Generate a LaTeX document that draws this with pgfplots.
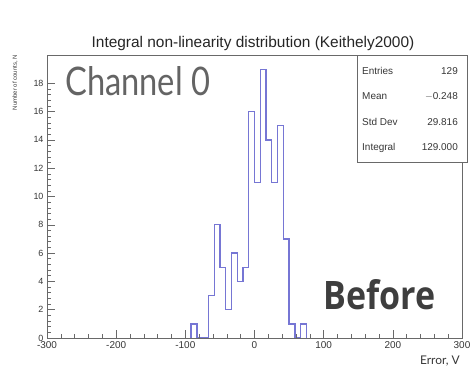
\documentclass[border=0pt]{standalone}
\usepackage{pgfplots}
\pgfplotsset{compat=1.18}
\usepackage{fontspec}
\setmainfont{Liberation Sans}
\newfontfamily\latofont{Lato}
\newfontfamily\boldfont{Open Sans}
\definecolor{histblue}{RGB}{118,118,212}
\definecolor{framegray}{RGB}{105,105,105}
\definecolor{txtgray}{RGB}{55,55,55}
\begin{document}
\begin{tikzpicture}[x=1bp,y=1bp]
\path[use as bounding box] (0,0) rectangle (471,368);
\fill[white] (0,0) rectangle (471,368);
\begin{axis}[
  at={(47bp,30bp)}, anchor=south west,
  scale only axis, width=415bp, height=283bp,
  xmin=-300, xmax=300, ymin=0, ymax=20,
  xtick={-300,-200,...,300}, minor x tick num=4,
  ytick={0,2,...,18}, minor y tick num=4,
  tick pos=left, tick align=inside,
  major tick length=8bp, minor tick length=4bp,
  axis line style={framegray, line width=0.8pt},
  tick style={framegray, line width=0.6pt},
  axis on top,
  /pgf/number format/assume math mode=true,
  xticklabel style={font=\fontsize{10}{10}\selectfont, text=txtgray},
  yticklabel style={font=\fontsize{9}{9}\selectfont, text=txtgray},
  scaled ticks=false,
]
\addplot[const plot, histblue, line width=1.3pt] coordinates {
(-91.667,0) (-91.667,1) (-83.333,0) (-66.667,3) (-58.333,8) (-50,5) (-41.667,2)
(-33.333,6) (-25,4) (-16.667,5) (-8.333,16) (0,11) (8.333,19) (16.667,14)
(25,11) (33.333,15) (41.667,7) (50,1) (58.333,0) (66.667,1) (75,0)};
\end{axis}
\node[anchor=base, inner sep=0, font=\fontsize{15.5}{15.5}\selectfont, text=black!85] at (253,321) {Integral non-linearity distribution (Keithely2000)};
\node[rotate=90, anchor=east, inner sep=0, font=\fontsize{6}{6}\selectfont, text=txtgray] at (15,313) {Number of counts, N};
\node[anchor=base west, inner sep=0, text={rgb,255:red,100;green,100;blue,100}] at (65,273) {\resizebox{145bp}{29bp}{\latofont\fontsize{40}{40}\selectfont Channel 0}};
\node[anchor=base west, inner sep=0, text={rgb,255:red,62;green,62;blue,62}] at (323,59) {\resizebox{112bp}{30bp}{\boldfont\bfseries Before}};
\node[anchor=base east, inner sep=0, text=txtgray] at (460,4) {\latofont\fontsize{12}{12}\selectfont Error, V};
\draw[framegray, line width=0.8pt, fill=white] (357,313) rectangle (467,206);
\begin{scope}[every node/.style={inner sep=0, font=\fontsize{10}{10}\selectfont, text=txtgray}]
\node[anchor=base west] at (362,294) {Entries};
\node[anchor=base east] at (458,294) {129};
\node[anchor=base west] at (362,268.5) {Mean};
\node[anchor=base east] at (458,268.5) {$-$0.248};
\node[anchor=base west] at (362,243) {Std Dev};
\node[anchor=base east] at (458,243) {29.816};
\node[anchor=base west] at (362,217.5) {Integral};
\node[anchor=base east] at (458,217.5) {129.000};
\end{scope}
\end{tikzpicture}
\end{document}
